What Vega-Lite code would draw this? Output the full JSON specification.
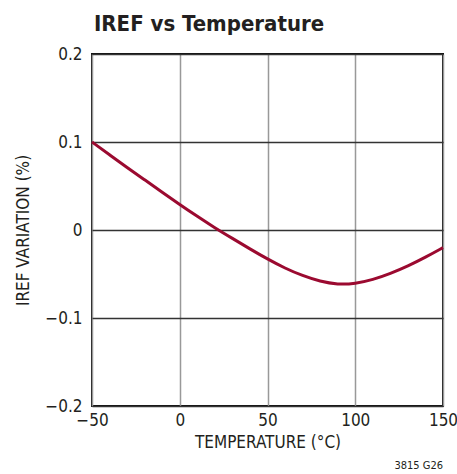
{
  "$schema": "https://vega.github.io/schema/vega-lite/v6.json",
  "width": 351,
  "height": 352,
  "autosize": {"type": "none"},
  "padding": {"left": 92, "top": 54, "right": 14, "bottom": 68},
  "background": "white",
  "title": {
    "text": "IREF vs Temperature",
    "anchor": "start",
    "frame": "group",
    "font": "'DejaVu Sans Condensed', 'Liberation Sans', sans-serif",
    "fontSize": 22,
    "fontWeight": "bold",
    "color": "#231f20",
    "offset": 9,
    "dx": 2
  },
  "config": {
    "font": "'DejaVu Sans Condensed', 'Liberation Sans', sans-serif",
    "view": {"stroke": "#111", "strokeWidth": 2},
    "axis": {
      "labelFont": "'DejaVu Sans Condensed', 'Liberation Sans', sans-serif",
      "titleFont": "'DejaVu Sans Condensed', 'Liberation Sans', sans-serif",
      "labelFontSize": 17,
      "titleFontSize": 17,
      "labelColor": "#231f20",
      "titleColor": "#231f20",
      "titleFontWeight": "normal",
      "ticks": false,
      "domain": false
    }
  },
  "layer": [
    {
      "data": {
        "values": [
          {"t": -50, "v": 0.100},
          {"t": -40, "v": 0.0855},
          {"t": -30, "v": 0.071},
          {"t": -20, "v": 0.057},
          {"t": -10, "v": 0.043},
          {"t": 0, "v": 0.029},
          {"t": 10, "v": 0.0155},
          {"t": 20, "v": 0.0025},
          {"t": 30, "v": -0.0095},
          {"t": 40, "v": -0.0215},
          {"t": 50, "v": -0.0330},
          {"t": 60, "v": -0.0435},
          {"t": 70, "v": -0.0520},
          {"t": 80, "v": -0.0585},
          {"t": 90, "v": -0.0620},
          {"t": 100, "v": -0.0610},
          {"t": 110, "v": -0.0565},
          {"t": 120, "v": -0.0495},
          {"t": 130, "v": -0.0410},
          {"t": 140, "v": -0.0310},
          {"t": 150, "v": -0.0200}
        ]
      },
      "mark": {"type": "line", "interpolate": "basis", "color": "#9b0a30", "strokeWidth": 3},
      "encoding": {
        "x": {
          "field": "t", "type": "quantitative",
          "scale": {"domain": [-50, 150], "nice": false, "zero": false},
          "axis": {
            "values": [-50, 0, 50, 100, 150],
            "title": "TEMPERATURE (°C)",
            "labelPadding": 6,
            "titlePadding": 6,
            "labelFlush": false,
            "labelBound": false,
            "grid": true,
            "gridColor": "#999999",
            "gridWidth": 1.5,
            "labelExpr": "replace(format(datum.value, 'd'), '-', '–')"
          }
        },
        "y": {
          "field": "v", "type": "quantitative",
          "scale": {"domain": [-0.2, 0.2], "nice": false},
          "axis": {
            "values": [-0.2, -0.1, 0, 0.1, 0.2],
            "title": "IREF VARIATION (%)",
            "labelPadding": 10,
            "titlePadding": 12,
            "labelFlush": false,
            "grid": true,
            "gridColor": "#333333",
            "gridWidth": 1.5,
            "labelExpr": "datum.value == 0 ? '0' : replace(format(datum.value, '.1f'), '-', '–')"
          }
        }
      }
    },
    {
      "data": {"values": [{"label": "3815 G26"}]},
      "mark": {"type": "text", "align": "right", "baseline": "bottom", "dy": 65, "dx": 0, "fontSize": 11, "color": "#231f20", "font": "'DejaVu Sans Condensed', 'Liberation Sans', sans-serif"},
      "encoding": {
        "x": {"datum": 150},
        "y": {"datum": -0.2},
        "text": {"field": "label"}
      }
    }
  ]
}
